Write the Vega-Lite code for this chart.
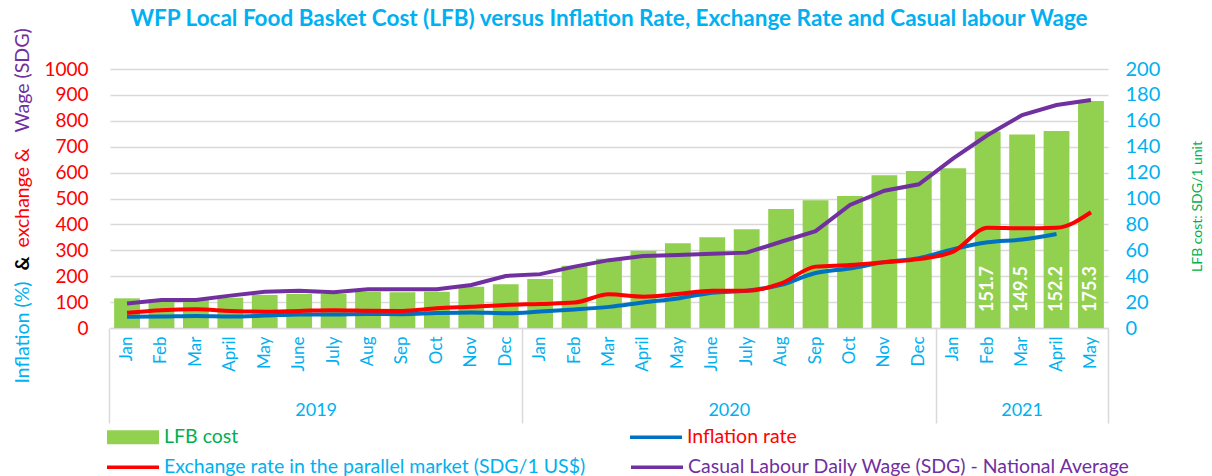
{
  "$schema": "https://vega.github.io/schema/vega-lite/v6.json",
  "width": 998,
  "height": 259,
  "autosize": {"type": "none"},
  "padding": {"left": 110, "top": 69, "right": 104, "bottom": 148},
  "background": "white",
  "title": {
    "text": "WFP Local Food Basket Cost (LFB) versus Inflation Rate, Exchange Rate and Casual labour Wage",
    "color": "#00B0F0", "font": "Lato", "fontSize": 22.5, "fontWeight": "bold",
    "anchor": "middle", "frame": "group", "offset": -3
  },
  "data": {
    "values": [
      {"period": "Jan 2019", "year": 2019, "month": "Jan", "LFB": 22.9, "Inflation": 43.5, "Exchange": 59, "Wage": 95},
      {"period": "Feb 2019", "year": 2019, "month": "Feb", "LFB": 22.4, "Inflation": 44.3, "Exchange": 69, "Wage": 108},
      {"period": "Mar 2019", "year": 2019, "month": "Mar", "LFB": 22.4, "Inflation": 46.4, "Exchange": 72, "Wage": 108},
      {"period": "April 2019", "year": 2019, "month": "April", "LFB": 23.4, "Inflation": 44.5, "Exchange": 66, "Wage": 125},
      {"period": "May 2019", "year": 2019, "month": "May", "LFB": 25.5, "Inflation": 47.8, "Exchange": 63, "Wage": 140},
      {"period": "June 2019", "year": 2019, "month": "June", "LFB": 26.3, "Inflation": 52.6, "Exchange": 66, "Wage": 144},
      {"period": "July 2019", "year": 2019, "month": "July", "LFB": 26.3, "Inflation": 52.6, "Exchange": 69, "Wage": 138},
      {"period": "Aug 2019", "year": 2019, "month": "Aug", "LFB": 28.0, "Inflation": 54.3, "Exchange": 67, "Wage": 150},
      {"period": "Sep 2019", "year": 2019, "month": "Sep", "LFB": 27.6, "Inflation": 53.1, "Exchange": 66, "Wage": 150},
      {"period": "Oct 2019", "year": 2019, "month": "Oct", "LFB": 28.0, "Inflation": 57.7, "Exchange": 76, "Wage": 150},
      {"period": "Nov 2019", "year": 2019, "month": "Nov", "LFB": 31.9, "Inflation": 60.1, "Exchange": 82, "Wage": 166},
      {"period": "Dec 2019", "year": 2019, "month": "Dec", "LFB": 33.7, "Inflation": 57.0, "Exchange": 89, "Wage": 201},
      {"period": "Jan 2020", "year": 2020, "month": "Jan", "LFB": 37.8, "Inflation": 63.3, "Exchange": 93, "Wage": 208},
      {"period": "Feb 2020", "year": 2020, "month": "Feb", "LFB": 48.1, "Inflation": 71.4, "Exchange": 98, "Wage": 237},
      {"period": "Mar 2020", "year": 2020, "month": "Mar", "LFB": 53.5, "Inflation": 81.6, "Exchange": 130, "Wage": 262},
      {"period": "April 2020", "year": 2020, "month": "April", "LFB": 59.7, "Inflation": 98.8, "Exchange": 121, "Wage": 278},
      {"period": "May 2020", "year": 2020, "month": "May", "LFB": 65.4, "Inflation": 114.3, "Exchange": 131, "Wage": 282},
      {"period": "June 2020", "year": 2020, "month": "June", "LFB": 70.0, "Inflation": 136.4, "Exchange": 144, "Wage": 287},
      {"period": "July 2020", "year": 2020, "month": "July", "LFB": 76.2, "Inflation": 143.8, "Exchange": 144, "Wage": 291},
      {"period": "Aug 2020", "year": 2020, "month": "Aug", "LFB": 91.9, "Inflation": 166.8, "Exchange": 172, "Wage": 333},
      {"period": "Sep 2020", "year": 2020, "month": "Sep", "LFB": 98.6, "Inflation": 212.3, "Exchange": 237, "Wage": 374},
      {"period": "Oct 2020", "year": 2020, "month": "Oct", "LFB": 101.9, "Inflation": 229.9, "Exchange": 243, "Wage": 475},
      {"period": "Nov 2020", "year": 2020, "month": "Nov", "LFB": 117.9, "Inflation": 254.3, "Exchange": 254, "Wage": 530},
      {"period": "Dec 2020", "year": 2020, "month": "Dec", "LFB": 121.2, "Inflation": 269.3, "Exchange": 266, "Wage": 555},
      {"period": "Jan 2021", "year": 2021, "month": "Jan", "LFB": 123.3, "Inflation": 304.3, "Exchange": 295, "Wage": 655},
      {"period": "Feb 2021", "year": 2021, "month": "Feb", "LFB": 151.7, "Inflation": 330.8, "Exchange": 387, "Wage": 745},
      {"period": "Mar 2021", "year": 2021, "month": "Mar", "LFB": 149.5, "Inflation": 341.8, "Exchange": 385, "Wage": 822},
      {"period": "April 2021", "year": 2021, "month": "April", "LFB": 152.2, "Inflation": 363.1, "Exchange": 387, "Wage": 861},
      {"period": "May 2021", "year": 2021, "month": "May", "LFB": 175.3, "Inflation": null, "Exchange": 447, "Wage": 880}
    ]
  },
  "layer": [
    {
      "layer": [
        {
          "mark": {"type": "bar", "color": "#92D050"},
          "encoding": {
            "x": {"field": "period", "type": "nominal", "sort": null,
              "scale": {"type": "band", "paddingInner": 0.25, "paddingOuter": 0.12},
              "axis": {"orient": "bottom", "title": null, "labelExpr": "split(datum.label, ' ')[0]",
                "labelAngle": -90, "labelAlign": "right", "labelBaseline": "middle", "labelPadding": 8,
                "labelColor": "#00B0F0", "labelFontSize": 17, "labelFont": "Lato",
                "ticks": false, "domain": false, "grid": false}},
            "y": {"field": "LFB", "type": "quantitative",
              "scale": {"domain": [0, 200], "nice": false},
              "axis": {"orient": "right", "values": [0, 20, 40, 60, 80, 100, 120, 140, 160, 180, 200],
                "labelColor": "#00B0F0", "labelFontSize": 20, "labelFont": "Lato", "labelPadding": 17,
                "ticks": false, "domain": false, "grid": false,
                "title": "LFB cost: SDG/1 unit", "titleColor": "#00B050", "titleFont": "Lato", "titleFontSize": 14,
                "titleFontWeight": "normal", "titleAngle": 270, "titleAlign": "center", "titleBaseline": "middle",
                "titleX": 89, "titleY": 137}},
            "color": {"datum": "LFB cost", "type": "nominal",
              "scale": {"domain": ["LFB cost", "Inflation rate"], "range": ["#92D050", "#0070C0"]},
              "legend": {"orient": "none", "direction": "horizontal", "legendX": -3, "legendY": 342, "columnPadding": 391,
                "padding": 0, "title": null, "labelFont": "Lato", "labelFontSize": 19.5,
                "labelLimit": 700, "labelOffset": 5, "symbolSize": 2704,
                "encode": {
                  "labels": {"update": {"fill": {"signal": "datum.value == 'LFB cost' ? '#00B050' : '#FF0000'"}}},
                  "symbols": {"update": {
                    "shape": {"signal": "datum.value == 'LFB cost' ? 'M-1,-0.27H1V0.27H-1Z' : 'M-1,-0.07H1V0.07H-1Z'"},
                    "fill": {"signal": "scale('color', datum.value)"},
                    "stroke": {"value": "transparent"},
                    "strokeWidth": {"value": 0},
                    "opacity": {"value": 1},
                    "fillOpacity": {"value": 1}}}
                }}}
          }
        },
        {
          "transform": [{"filter": "datum.year == 2021 && datum.month != 'Jan'"}],
          "mark": {"type": "text", "color": "white", "font": "Lato", "fontSize": 18, "fontWeight": "bold",
            "angle": 270, "align": "left", "baseline": "middle", "dx": 16},
          "encoding": {
            "x": {"field": "period", "type": "nominal", "sort": null,
              "scale": {"type": "band", "paddingInner": 0.25, "paddingOuter": 0.12}, "axis": null},
            "y": {"datum": 0, "type": "quantitative",
              "axis": {"orient": "left", "labels": false, "ticks": false, "domain": false, "grid": false,
                "title": "&", "titleColor": "black", "titleFont": "Lato", "titleFontSize": 19.5, "titleFontWeight": "bold",
                "titleAngle": 270, "titleAlign": "left", "titleBaseline": "middle", "titleX": -88, "titleY": 201}},
            "text": {"field": "LFB", "type": "quantitative", "format": ".1f"}
          }
        }
      ],
      "resolve": {"scale": {"y": "shared"}, "axis": {"y": "independent", "x": "independent"}}
    },
    {
      "layer": [
        {
          "mark": {"type": "line", "strokeWidth": 4, "interpolate": "monotone"},
          "encoding": {
            "x": {"field": "period", "type": "nominal", "sort": null,
              "scale": {"type": "band", "paddingInner": 0.25, "paddingOuter": 0.12},
              "axis": {"orient": "bottom", "title": null, "values": ["June 2019", "June 2020", "Mar 2021"],
                "labelExpr": "split(datum.label, ' ')[1]", "labelAngle": 0, "labelAlign": "center",
                "labelBaseline": "top", "labelPadding": 73,
                "labelOffset": {"condition": {"test": "datum.value == 'Mar 2021'", "value": 0}, "value": 17},
                "labelColor": "#00B0F0", "labelFontSize": 18, "labelFont": "Lato",
                "ticks": false, "domain": false, "grid": false}},
            "y": {"field": "Inflation", "type": "quantitative",
              "scale": {"domain": [0, 1000], "nice": false},
              "axis": {"orient": "left", "values": [0, 100, 200, 300, 400, 500, 600, 700, 800, 900, 1000],
                "format": "d",
                "labelColor": "#FF0000", "labelFontSize": 19, "labelFont": "Lato", "labelPadding": 22,
                "ticks": false, "domain": false, "grid": true, "gridColor": "#D9D9D9", "gridWidth": 1.5,
                "title": "Inflation (%)", "titleColor": "#00B0F0", "titleFont": "Lato", "titleFontSize": 19.5,
                "titleFontWeight": "normal", "titleAngle": 270, "titleAlign": "left", "titleBaseline": "middle",
                "titleX": -88, "titleY": 314}},
            "color": {"datum": "Inflation rate", "type": "nominal"}
          }
        },
        {
          "mark": {"type": "line", "strokeWidth": 4, "interpolate": "monotone"},
          "encoding": {
            "x": {"field": "period", "type": "nominal", "sort": null,
              "scale": {"type": "band", "paddingInner": 0.25, "paddingOuter": 0.12},
              "axis": {"orient": "bottom", "title": null, "values": ["Jan 2019", "Jan 2020", "Jan 2021"],
                "bandPosition": -0.165, "labels": false, "ticks": true, "tickSize": 95, "tickColor": "#D9D9D9",
                "tickWidth": 1.5, "domain": true, "domainColor": "#D9D9D9", "domainWidth": 1.5, "grid": false}},
            "y": {"field": "Exchange", "type": "quantitative",
              "axis": {"orient": "left", "labels": false, "ticks": false, "domain": false, "grid": false,
                "title": "exchange &", "titleColor": "#FF0000", "titleFont": "Lato", "titleFontSize": 19.5,
                "titleFontWeight": "normal", "titleAngle": 270, "titleAlign": "left", "titleBaseline": "middle",
                "titleX": -88, "titleY": 178}},
            "stroke": {"datum": "Exchange rate in the parallel market (SDG/1 US$)", "type": "nominal",
              "scale": {"domain": ["Exchange rate in the parallel market (SDG/1 US$)", "Casual Labour Daily Wage (SDG) - National Average"],
                "range": ["#FF0000", "#7030A0"]},
              "legend": {"orient": "none", "direction": "horizontal", "legendX": -3, "legendY": 372, "columnPadding": 45,
                "padding": 0, "title": null, "labelFont": "Lato", "labelFontSize": 19.5,
                "labelLimit": 700, "labelOffset": 5, "symbolSize": 2704,
                "encode": {
                  "labels": {"update": {"fill": {"signal": "indexof(datum.value, 'Exchange') == 0 ? '#00B0F0' : '#7030A0'"}}},
                  "symbols": {"update": {
                    "shape": {"value": "M-1,-0.07H1V0.07H-1Z"},
                    "fill": {"signal": "scale('stroke', datum.value)"},
                    "stroke": {"value": "transparent"},
                    "strokeWidth": {"value": 0},
                    "opacity": {"value": 1},
                    "fillOpacity": {"value": 1}}}
                }}}
          }
        },
        {
          "mark": {"type": "line", "strokeWidth": 4, "interpolate": "linear"},
          "encoding": {
            "x": {"field": "period", "type": "nominal", "sort": null,
              "scale": {"type": "band", "paddingInner": 0.25, "paddingOuter": 0.12},
              "axis": {"orient": "bottom", "title": null, "values": ["May 2021"],
                "bandPosition": 1.165, "labels": false, "ticks": true, "tickSize": 95, "tickColor": "#D9D9D9",
                "tickWidth": 1.5, "domain": false, "grid": false}},
            "y": {"field": "Wage", "type": "quantitative",
              "axis": {"orient": "left", "labels": false, "ticks": false, "domain": false, "grid": false,
                "title": "Wage (SDG)", "titleColor": "#7030A0", "titleFont": "Lato", "titleFontSize": 19.5,
                "titleFontWeight": "normal", "titleAngle": 270, "titleAlign": "left", "titleBaseline": "middle",
                "titleX": -88, "titleY": 63}},
            "stroke": {"datum": "Casual Labour Daily Wage (SDG) - National Average", "type": "nominal"}
          }
        }
      ],
      "resolve": {"scale": {"y": "shared"}, "axis": {"y": "independent", "x": "independent"}}
    }
  ],
  "resolve": {"scale": {"y": "independent"}, "axis": {"y": "independent", "x": "independent"}},
  "config": {
    "font": "Lato",
    "view": {"stroke": null}
  }
}
